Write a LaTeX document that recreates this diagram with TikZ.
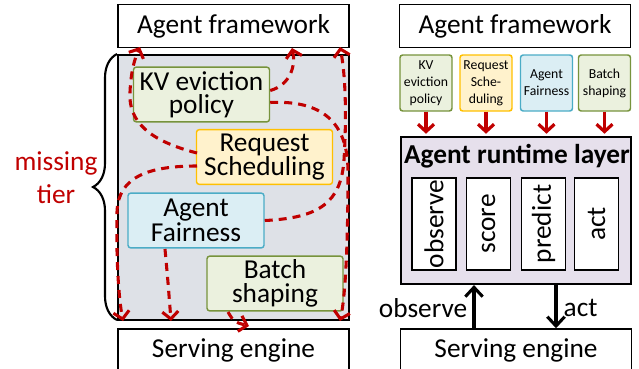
\documentclass[tikz,border=0pt]{standalone}
\usepackage{fontspec}
\setmainfont{Carlito}
\usetikzlibrary{arrows.meta,decorations.pathreplacing,positioning}
\definecolor{tred}{HTML}{C00000}
\definecolor{tgray}{HTML}{DEE1E7}
\definecolor{gfill}{HTML}{EBF1DE}
\definecolor{gline}{HTML}{77933C}
\definecolor{yfill}{HTML}{FFF2CC}
\definecolor{yline}{HTML}{FFC000}
\definecolor{bfill}{HTML}{DBEEF4}
\definecolor{bline}{HTML}{4BACC6}
\definecolor{lav}{HTML}{E6E0EC}

\begin{document}
\begin{tikzpicture}[x=0.75pt,y=-0.75pt,
  every node/.style={font=\fontsize{20.5}{17.5}\selectfont},
  box/.style={draw,line width=1.1pt,minimum width=173pt,minimum height=32pt,inner sep=0pt},
  pol/.style={draw,rounded corners=2pt,line width=1.1pt,align=center,minimum width=102pt,minimum height=41pt,inner sep=0pt},
  minipol/.style={pol,minimum width=39pt,minimum height=42pt,font=\fontsize{10.3}{12.7}\selectfont},
  green/.style={fill=gfill,draw=gline},
  yellow/.style={fill=yfill,draw=yline},
  blue/.style={fill=bfill,draw=bline},
  slot/.style={draw,fill=white,line width=1.1pt,rotate=90,minimum width=69pt,minimum height=33pt,inner sep=0pt},
  mess/.style={tred,line width=2.3pt,dash pattern=on 6pt off 4.5pt,-{Straight Barb[length=5.5pt,width=12pt]}},
  feed/.style={tred,line width=2.4pt,-{Straight Barb[length=5.5pt,width=12pt]}},
  io/.style={line width=2.3pt,-{Straight Barb[length=7pt,width=13pt]}}]
\useasboundingbox (0,0) rectangle (639,368);

\node[box] (fwL) at (233.5,26) {Agent framework};
\node[draw,line width=1.6pt,fill=tgray,minimum width=173pt,minimum height=198.75pt] (tier) at (233.5,187.5) {};
\node[box,minimum height=32.25pt] (seL) at (233.5,350.5) {Serving engine};

\node[pol,green] (kv) at (201.5,94.5) {KV eviction\\policy};
\node[pol,yellow] (rs) at (264.5,157) {Request\\Scheduling};
\node[pol,blue] (af) at (196,220.5) {Agent\\Fairness};
\node[pol,green] (bs) at (275,283.5) {Batch\\shaping};

\coordinate (t1) at (140,47);
\coordinate (t2) at (292,48);
\coordinate (t3) at (340,47);
\coordinate (b1) at (123,321);
\coordinate (b2) at (171,321);
\coordinate (b3) at (249,326);
\coordinate (b4) at (340,321);

\draw[mess] (197,153) .. controls (150,141) and (128,122) .. (130,92) .. controls (131,70) and (135,58) .. (t1);
\draw[mess] (197,166) .. controls (150,166) and (118,176) .. (117,212) .. controls (116,262) and (119,300) .. (b1);
\draw[mess] (kv.east) ++(0,-4) .. controls (290,85) and (296,66) .. (t2);
\draw[mess] (kv.east) ++(0,8) .. controls (322,100) and (348,122) .. (348,172) .. controls (348,250) and (345,298) .. (b4);
\draw[mess] (af.east) .. controls (320,218) and (341,202) .. (344,160) .. controls (347,110) and (345,72) .. (t3);
\draw[mess] (165,249) .. controls (168,282) .. (b2);
\draw[mess] (228,312) .. controls (234,322) .. (b3);

\draw[line width=1.6pt,decorate,decoration={brace,amplitude=18pt}] (117,320) -- (117,54);
\node[tred,font=\fontsize{20.5}{24.7}\selectfont,align=center] (miss) at (56,178) {missing\\tier};

\node[box] (fwR) at (515,26) {Agent framework};
\node[minipol,green] (kvR) at (426,83) {KV\\eviction\\policy};
\node[minipol,yellow] (rsR) at (486,83) {Request\\Sche-\\duling};
\node[minipol,blue] (afR) at (546.5,83) {Agent\\Fairness};
\node[minipol,green] (bsR) at (604.5,83) {Batch\\shaping};

\node[draw,line width=1.6pt,fill=lav,minimum width=172.5pt,minimum height=110.25pt] (rt) at (516,210.5) {};
\node[font=\fontsize{20.5}{17}\selectfont\bfseries] (rtl) at (517,156) {Agent runtime layer};
\node[slot] (obs) at (434,224) {observe};
\node[slot] (sco) at (488.5,224) {score};
\node[slot] (pre) at (543.5,224) {predict};
\node[slot] (act) at (596.5,224) {act};

\foreach \p in {kvR,rsR,afR,bsR}
  \draw[feed] (\p.south) -- ++(0,22);

\node[box,minimum height=32.25pt] (seR) at (516,350.5) {Serving engine};
\draw[io] (seR.north -| 474,0) -- (rt.south -| 474,0);
\draw[io] (rt.south -| 556,0) -- (seR.north -| 556,0);
\node[anchor=east] (lobs) at (472,308) {observe};
\node[anchor=west] (lact) at (559,308) {act};
\end{tikzpicture}
\end{document}
